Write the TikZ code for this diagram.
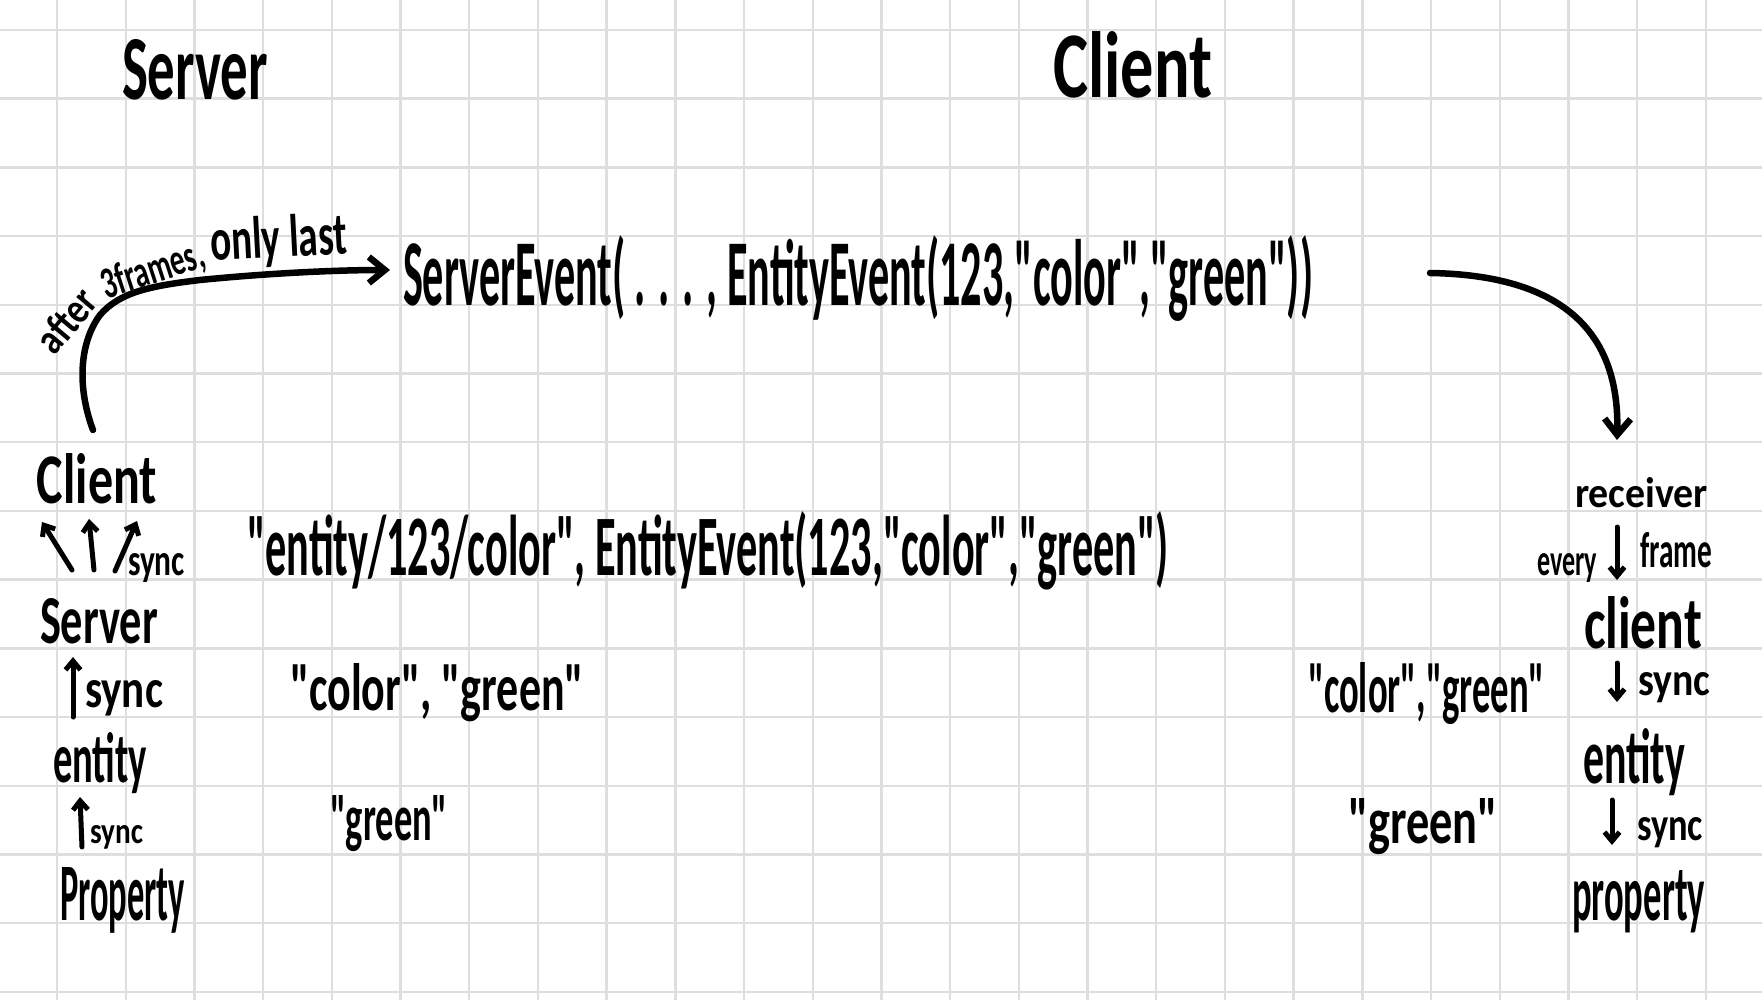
\documentclass[tikz,border=0pt]{standalone}
\usepackage{fontspec}
\newfontfamily\hwfont{Carlito}
\usepackage{graphicx}
\usetikzlibrary{arrows.meta}
\definecolor{gridgray}{RGB}{222,222,222}
\newcommand{\hw}[3]{\resizebox{#1pt}{#2pt}{\hwfont\bfseries #3}}
\newcommand{\qq}{"}
\begin{document}
\begin{tikzpicture}[x=1pt,y=-1pt,
  gridline/.style={draw=gridgray,line width=2.4pt},
  hand/.style={anchor=base west,inner sep=0pt,outer sep=0pt},
  bigarrow/.style={line width=6.5pt,line cap=round,line join=round,-{Straight Barb[length=16pt,width=26pt]}},
  smallarrow/.style={line width=5pt,line cap=round,line join=round,-{Straight Barb[length=9pt,width=15pt]}}]

\useasboundingbox (0,0) rectangle (1762,1000);
\fill[white] (0,0) rectangle (1762,1000);

% grid
\foreach \k in {0,...,24} \draw[gridline] ({57+68.7*\k},0) -- ({57+68.7*\k},1000);
\foreach \k in {0,...,14} \draw[gridline] (0,{30+68.7*\k}) -- (1762,{30+68.7*\k});

% titles
\node[hand] (stitle) at (122,100) {\hw{146}{60}{Server}};
\node[hand] (ctitle) at (1053,98) {\hw{159}{66}{Client}};

% top event
\node[hand] (ev) at (403,306) {\hw{910}{70}{ServerEvent( . . . , EntityEvent(123,\qq color\qq,\qq green\qq))}};

% label along the left arrow
\node[inner sep=0pt, rotate=50] (lab1) at (66,320) {\hw{70}{30}{after}};
\node[inner sep=0pt, rotate=18] (lab2) at (153,271) {\hw{106}{31}{3frames,}};
\node[hand, rotate=3] (lab3) at (211,261) {\hw{137}{42}{only last}};

% left column
\node[hand] (lclient) at (37,503) {\hw{120}{50}{Client}};
\node[hand] (lsyncA) at (128,575) {\hw{57}{22}{sync}};
\node[hand] (lserver) at (40,643) {\hw{118}{45}{Server}};
\node[hand] (lsyncB) at (85,707) {\hw{78}{27}{sync}};
\node[hand] (lentity) at (53,782) {\hw{94}{50}{entity}};
\node[hand] (lsyncC) at (90,843) {\hw{53}{18}{sync}};
\node[hand] (lprop) at (60,920) {\hw{125}{53}{Property}};

% middle values
\node[hand] (mid2) at (247,575) {\hw{922}{64}{\qq entity/123/color\qq, EntityEvent(123,\qq color\qq,\qq green\qq)}};
\node[hand] (mid3) at (290,710) {\hw{294}{47}{\qq color\qq, \qq green\qq}};
\node[hand] (mid4) at (330,840) {\hw{118}{45}{\qq green\qq}};

% right column
\node[hand] (rrecv) at (1575,507) {\hw{133}{30}{receiver}};
\node[hand] (revery) at (1537,575) {\hw{60}{22}{every}};
\node[hand] (rframe) at (1640,567) {\hw{72}{35}{frame}};
\node[hand] (rclient) at (1584,648) {\hw{118}{52}{client}};
\node[hand] (rsyncA) at (1638,695) {\hw{72}{23}{sync}};
\node[hand] (rentity) at (1583,783) {\hw{102}{55}{entity}};
\node[hand] (rsyncB) at (1637,840) {\hw{66}{23}{sync}};
\node[hand] (rprop) at (1572,920) {\hw{133}{50}{property}};
\node[hand] (rmid3) at (1308,712) {\hw{237}{50}{\qq color\qq,\qq green\qq}};
\node[hand] (rmid4) at (1348,843) {\hw{150}{45}{\qq green\qq}};

% arrow coordinates
\coordinate (a1s) at (93,430);
\coordinate (a1e) at (390,270);
\coordinate (a2s) at (1430,273);
\coordinate (a2e) at (1617,440);
\coordinate (s1s) at (72,570);  \coordinate (s1e) at (42,522);
\coordinate (s2s) at (94,570);  \coordinate (s2e) at (89,519);
\coordinate (s3s) at (115,571); \coordinate (s3e) at (137,521);
\coordinate (s4s) at (73,717);  \coordinate (s4e) at (73,657);
\coordinate (s5s) at (82,847);  \coordinate (s5e) at (80,797);
\coordinate (r1s) at (1617,527); \coordinate (r1e) at (1617,580);
\coordinate (r2s) at (1617,663); \coordinate (r2e) at (1617,702);
\coordinate (r3s) at (1612,800); \coordinate (r3e) at (1612,845);

% big arrows
\draw[bigarrow] (a1s) .. controls (78,390) and (78,345) .. (100,315)
  .. controls (120,292) and (150,286) .. (200,280)
  .. controls (260,274) and (330,270) .. (a1e);
\draw[bigarrow] (a2s) .. controls (1560,275) and (1620,330) .. (a2e);

% small arrows
\draw[smallarrow] (s1s) -- (s1e);
\draw[smallarrow] (s2s) -- (s2e);
\draw[smallarrow] (s3s) -- (s3e);
\draw[smallarrow] (s4s) -- (s4e);
\draw[smallarrow] (s5s) -- (s5e);
\draw[smallarrow] (r1s) -- (r1e);
\draw[smallarrow] (r2s) -- (r2e);
\draw[smallarrow] (r3s) -- (r3e);
\end{tikzpicture}
\end{document}
